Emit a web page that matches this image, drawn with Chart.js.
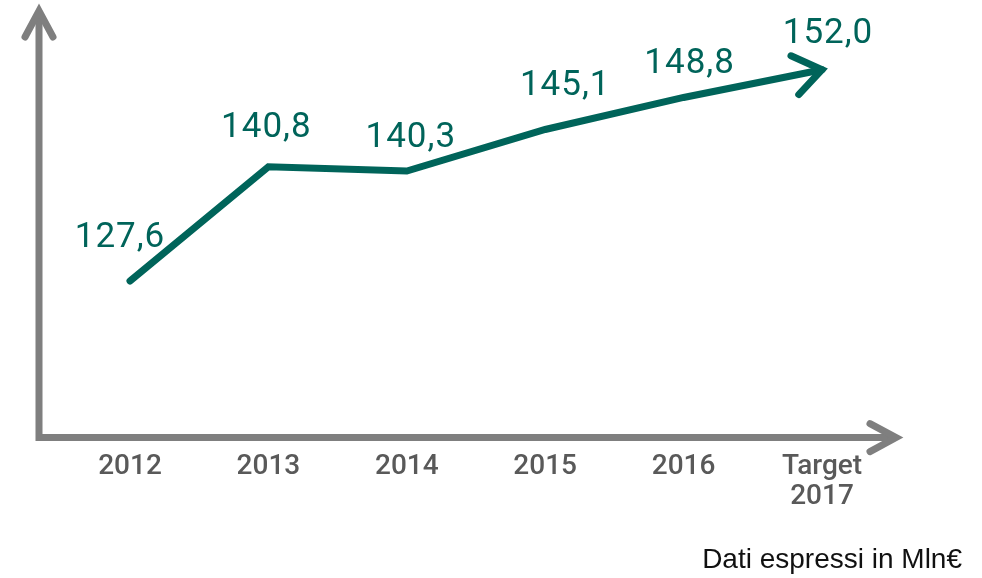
<!DOCTYPE html>
<html>
<head>
<meta charset="utf-8">
<script src="https://cdn.jsdelivr.net/npm/chart.js@4.4.1/dist/chart.umd.min.js"></script>
<style>
  html, body { margin: 0; padding: 0; background: #ffffff; }
  #wrap { width: 982px; height: 578px; }
</style>
</head>
<body>
<div id="wrap"><canvas id="lineChart" width="982" height="578"></canvas></div>
<script>
// values in Mln€
const years = ["2012", "2013", "2014", "2015", "2016", ["Target", "2017"]];
const revenue = [127.6, 140.8, 140.3, 145.1, 148.8, 152.0];
const valueLabels = ["127,6", "140,8", "140,3", "145,1", "148,8", "152,0"];

const TEAL = "#00645a";
const GREY = "#7f7f7f";

// gray axes with open arrow heads
const axesArrows = {
    id: "axesArrows",
    beforeDatasetsDraw(chart) {
        const ctx = chart.ctx;
        const a = chart.chartArea;
        const x0 = a.left;
        const y0 = a.bottom - 1;
        const xEnd = chart.scales.x.getPixelForValue(years.length - 1) + 76;
        const yEnd = a.top - 2;
        ctx.save();
        ctx.strokeStyle = GREY;
        ctx.lineWidth = 7;
        ctx.lineCap = "butt";
        ctx.beginPath();
        ctx.moveTo(x0, yEnd + 4);
        ctx.lineTo(x0, y0);
        ctx.lineTo(xEnd - 4, y0);
        ctx.stroke();
        ctx.lineCap = "round";
        ctx.lineJoin = "miter";
        ctx.beginPath();
        ctx.moveTo(x0 - 14, yEnd + 29);
        ctx.lineTo(x0, yEnd + 3);
        ctx.lineTo(x0 + 14, yEnd + 29);
        ctx.stroke();
        ctx.beginPath();
        ctx.moveTo(xEnd - 28, y0 - 14);
        ctx.lineTo(xEnd - 2, y0);
        ctx.lineTo(xEnd - 28, y0 + 14);
        ctx.stroke();
        ctx.restore();
    }
};

// arrow at the end of the line + value labels
const lineExtras = {
    id: "lineExtras",
    afterDatasetsDraw(chart, args, opts) {
        const ctx = chart.ctx;
        const pts = chart.getDatasetMeta(0).data;
        const n = pts.length;
        const tip = pts[n - 1];
        const prev = pts[n - 2];
        const ang = Math.atan2(tip.y - prev.y, tip.x - prev.x);

        ctx.save();
        ctx.strokeStyle = TEAL;
        ctx.lineWidth = 7;
        ctx.lineCap = "round";
        ctx.lineJoin = "miter";
        ctx.beginPath();
        ctx.moveTo(tip.x - 34 * Math.cos(ang - 0.62), tip.y - 34 * Math.sin(ang - 0.62));
        ctx.lineTo(tip.x, tip.y);
        ctx.lineTo(tip.x - 34 * Math.cos(ang + 0.62), tip.y - 34 * Math.sin(ang + 0.62));
        ctx.stroke();

        ctx.fillStyle = TEAL;
        ctx.font = "35px Roboto, 'Liberation Sans', Arial, sans-serif";
        ctx.letterSpacing = "1px";
        ctx.textAlign = "center";
        ctx.textBaseline = "middle";
        pts.forEach((p, i) => {
            const s = opts.shift[i];
            ctx.fillText(valueLabels[i], p.x + s[0], p.y + s[1]);
        });
        ctx.restore();
    }
};

new Chart(document.getElementById("lineChart"), {
    type: "line",
    data: {
        datasets: [{
            data: revenue.map((v, i) => ({ x: i, y: v })),
            borderColor: TEAL,
            borderWidth: 7,
            borderCapStyle: "round",
            borderJoinStyle: "miter",
            pointRadius: 0,
            tension: 0,
            fill: false
        }]
    },
    options: {
        responsive: false,
        animation: false,
        layout: {
            padding: { left: 39, right: 20, top: 10, bottom: 0 }
        },
        scales: {
            x: {
                type: "linear",
                min: -0.6575,
                max: 6.0116,
                afterBuildTicks: axis => {
                    axis.ticks = years.map((y, i) => ({ value: i }));
                },
                grid: { display: false, drawTicks: false },
                border: { display: false },
                ticks: {
                    color: "#595959",
                    padding: 14,
                    maxRotation: 0,
                    autoSkip: false,
                    callback: value => years[value],
                    font: { family: "Roboto, 'Liberation Sans', sans-serif", size: 28, weight: "500", lineHeight: 1.05 }
                }
            },
            y: {
                display: false,
                min: 109.4,
                max: 158.9
            }
        },
        plugins: {
            legend: { display: false },
            tooltip: { enabled: false },
            title: {
                display: true,
                text: "Dati espressi in Mln€",
                position: "bottom",
                align: "end",
                color: "#111111",
                font: { family: "'Liberation Sans', Arial, sans-serif", size: 28, weight: "normal", lineHeight: 1.2 },
                padding: { top: 18, bottom: 1 }
            },
            lineExtras: {
                shift: [[-10, -43], [-2, -38], [4, -33], [20, -43], [6, -33], [6, -35]]
            }
        }
    },
    plugins: [axesArrows, lineExtras]
});
</script>
</body>
</html>
